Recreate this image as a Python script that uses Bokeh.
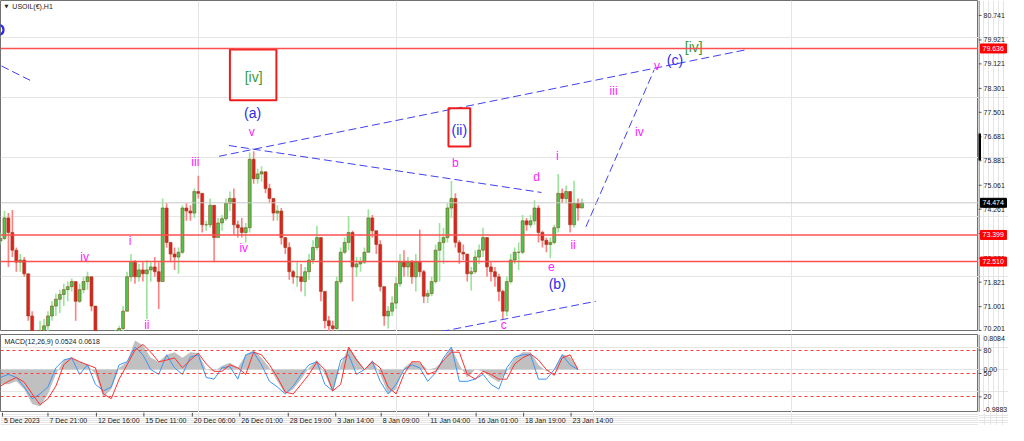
from bokeh.plotting import figure
from bokeh.models import Range1d, Span, ColumnDataSource
from bokeh.layouts import column, row
from bokeh.embed import file_html
from bokeh.resources import INLINE
from bokeh.core.properties import value

# ---------------- data ----------------
bar_step = 4          # hours per drawn bar
first_open = 73.20
price_high = [73.48, 74.20, 74.13, 74.23, 72.98, 72.76, 72.66, 72.10, 70.85, 70.20,
              70.53, 70.59, 70.85, 71.18, 71.44, 71.57, 71.77, 71.84, 71.94, 71.67,
              71.77, 72.00, 72.17, 72.00, 71.02, 70.04, 69.87, 69.87, 70.04, 70.20,
              70.36, 71.02, 72.17, 72.76, 72.56, 72.43, 72.49, 72.56, 72.49, 72.66,
              72.49, 74.62, 74.46, 73.15, 72.98, 72.98, 74.39, 74.46, 74.39, 74.95,
              75.38, 74.79, 73.87, 74.62, 74.30, 73.97, 74.07, 74.62, 74.85, 74.95,
              73.87, 73.97, 73.80, 76.16, 76.20, 75.61, 75.70, 75.51, 75.11, 74.62,
              74.39, 74.30, 73.31, 73.15, 72.23, 72.49, 72.43, 72.33, 72.76, 73.22,
              73.71, 73.31, 71.51, 70.69, 70.53, 72.00, 72.98, 73.31, 74.03, 73.54,
              72.66, 72.66, 72.98, 74.26, 74.07, 73.48, 73.22, 71.67, 71.02, 71.35,
              72.00, 72.76, 72.89, 72.66, 72.56, 72.76, 73.58, 72.23, 71.57, 72.00,
              73.08, 73.80, 73.64, 74.46, 75.21, 74.79, 73.22, 73.08, 72.76, 72.33,
              72.89, 73.08, 73.64, 73.31, 72.49, 72.33, 72.10, 71.57, 72.00, 72.76,
              72.98, 73.15, 74.07, 73.97, 74.07, 74.56, 74.39, 73.54, 73.31, 73.31,
              73.74, 75.44, 74.95, 75.05, 74.85, 75.21, 74.62, 74.62]
price_low = [73.08, 73.22, 72.33, 72.66, 72.17, 72.17, 72.00, 70.53, 69.87, 69.54,
             69.71, 69.87, 70.13, 70.53, 70.69, 70.79, 71.02, 71.18, 71.51, 70.53,
             71.12, 71.44, 71.57, 70.85, 69.87, 69.22, 69.05, 69.15, 69.38, 69.54,
             69.87, 70.13, 70.85, 71.84, 71.77, 71.84, 71.84, 70.59, 71.84, 72.00,
             70.92, 71.84, 72.98, 72.49, 72.23, 72.10, 72.76, 73.87, 73.87, 73.97,
             74.62, 73.48, 73.54, 73.64, 72.49, 73.31, 73.54, 73.87, 74.20, 73.41,
             73.31, 73.31, 73.15, 73.48, 75.11, 75.11, 75.18, 74.79, 74.46, 73.87,
             73.87, 73.08, 72.76, 71.90, 71.77, 71.67, 71.51, 71.35, 71.90, 72.43,
             72.89, 71.18, 70.27, 70.04, 70.04, 70.20, 71.77, 72.76, 72.89, 71.18,
             72.00, 72.17, 72.43, 72.82, 73.31, 72.76, 71.51, 70.36, 70.27, 70.69,
             70.92, 71.67, 72.00, 72.00, 71.77, 71.51, 72.00, 71.12, 71.12, 71.35,
             71.77, 71.84, 72.43, 73.15, 73.97, 72.98, 72.43, 72.56, 71.84, 71.54,
             72.10, 72.43, 72.66, 72.00, 71.84, 71.67, 71.18, 70.59, 70.69, 71.77,
             72.43, 72.23, 72.76, 73.54, 73.64, 73.74, 73.15, 72.98, 72.82, 72.62,
             73.08, 73.48, 74.46, 74.46, 73.48, 73.64, 73.87, 74.30]
price_close = [73.28, 73.97, 73.48, 72.89, 72.49, 72.56, 72.10, 70.69, 70.04, 69.71,
               70.20, 70.36, 70.69, 71.02, 71.25, 71.41, 71.57, 71.67, 71.84, 71.18,
               71.57, 71.84, 72.00, 71.02, 70.04, 69.54, 69.38, 69.61, 69.87, 70.04,
               70.27, 70.85, 72.00, 72.49, 72.00, 72.23, 72.10, 72.23, 72.33, 72.17,
               71.84, 74.30, 73.15, 72.76, 72.66, 72.82, 74.30, 74.20, 74.13, 74.85,
               74.79, 73.74, 73.74, 74.39, 73.31, 73.80, 73.94, 74.46, 74.62, 73.74,
               73.64, 73.48, 73.64, 75.93, 75.28, 75.44, 75.51, 74.95, 74.62, 74.13,
               74.20, 73.31, 72.98, 72.17, 72.00, 72.00, 71.84, 72.17, 72.56, 72.98,
               73.31, 71.51, 70.53, 70.36, 70.27, 71.84, 72.82, 73.15, 73.48, 72.33,
               72.43, 72.49, 72.82, 73.97, 73.54, 73.08, 71.67, 70.69, 70.85, 71.12,
               71.77, 72.49, 72.33, 72.49, 72.00, 72.49, 72.17, 71.35, 71.44, 71.84,
               72.89, 73.15, 73.31, 74.30, 74.62, 73.15, 72.82, 72.76, 72.10, 72.17,
               72.66, 72.89, 73.31, 72.33, 72.17, 72.00, 71.51, 70.85, 71.84, 72.56,
               72.82, 72.82, 73.87, 73.74, 73.87, 74.30, 73.48, 73.22, 73.08, 73.15,
               73.64, 74.79, 74.62, 74.85, 73.74, 74.46, 74.30, 74.474]

time_tick_idx = [2, 48, 97, 145, 194, 242, 291, 339, 385, 433, 481, 529, 577]
time_tick_labels = ["5 Dec 2023", "7 Dec 21:00", "12 Dec 16:00", "15 Dec 11:00", "20 Dec 06:00",
                    "26 Dec 01:00", "28 Dec 19:00", "3 Jan 14:00", "8 Jan 09:00", "11 Jan 04:00",
                    "16 Jan 01:00", "18 Jan 19:00", "23 Jan 14:00"]
price_ticks = [70.201, 71.001, 71.821, 72.621, 73.441, 74.261, 75.061, 75.881, 76.681,
               77.501, 78.301, 79.121, 79.921, 80.741]
red_levels = [79.636, 73.399, 72.510]
bid_price = 74.474
scroll_marker = (75.90, 76.79)   # MT4 price-scale marker

macd_step = 8
macd_hist = [-0.34, -0.34, -0.27, -0.45, -0.79, -0.85, -0.56, -0.11, 0.22, 0.27,
             0.18, 0.11, -0.11, -0.63, -0.45, 0.04, 0.18, 0.67, 0.56, 0.27,
             0.18, 0.34, 0.40, 0.27, 0.40, 0.38, 0.00, -0.04, 0.09, 0.16,
             0.04, 0.34, 0.45, 0.27, 0.04, -0.27, -0.56, -0.45, -0.22, 0.04,
             0.22, -0.11, -0.52, 0.11, 0.52, 0.27, 0.00, 0.22, -0.11, -0.56,
             -0.45, 0.04, 0.18, 0.16, 0.00, 0.04, 0.22, 0.52, 0.11, -0.18,
             0.00, -0.04, -0.18, -0.29, -0.04, 0.27, 0.40, 0.40, 0.11, -0.04,
             0.00, 0.36, 0.29, 0.04]
macd_signal = [-0.38, -0.27, -0.18, -0.29, -0.56, -0.81, -0.67, -0.38, 0.11, 0.27,
               0.18, 0.11, 0.04, -0.56, -0.67, -0.22, 0.11, 0.45, 0.58, 0.40,
               0.18, 0.22, 0.27, 0.04, 0.22, 0.38, 0.13, -0.04, -0.04, 0.11,
               0.04, -0.11, 0.40, 0.34, 0.11, -0.18, -0.52, -0.56, -0.34, -0.11,
               0.18, 0.00, -0.49, -0.34, 0.52, 0.22, 0.00, 0.18, 0.04, -0.40,
               -0.56, -0.11, 0.18, 0.18, -0.11, -0.04, 0.22, 0.40, 0.40, -0.11,
               -0.22, -0.04, -0.11, -0.22, -0.22, 0.13, 0.27, 0.36, 0.22, 0.00,
               -0.13, 0.27, 0.34, 0.00]
macd_blue = [-0.18, -0.11, -0.18, -0.40, -0.67, -0.56, -0.40, 0.04, 0.22, 0.27,
             -0.11, 0.11, -0.34, -0.49, -0.40, 0.11, 0.18, 0.52, 0.34, 0.00,
             -0.11, 0.34, 0.04, -0.11, 0.29, 0.34, -0.18, -0.22, 0.04, 0.07,
             -0.22, 0.34, 0.40, 0.11, -0.27, -0.40, -0.56, -0.38, -0.11, 0.11,
             0.18, -0.34, -0.49, 0.22, 0.34, -0.11, 0.00, 0.18, -0.27, -0.56,
             -0.34, 0.00, 0.11, 0.04, -0.27, -0.07, 0.27, 0.52, -0.27, -0.27,
             -0.22, -0.11, -0.34, -0.45, 0.04, 0.29, 0.34, 0.34, -0.22, -0.22,
             0.00, 0.34, 0.11, 0.00]
macd_levels = [80, 50, 20]
macd_max, macd_min = 0.8084, -0.9883
macd_title = "MACD(12,26,9) 0.0524 0.0618"

# wave annotations: text, bar index (hours), price, kind
wave_text = ["iv", "i", "ii", "iii", "iv", "v", "(a)", "[iv]", "(ii)", "b", "c", "d", "e",
             "(b)", "i", "ii", "iii", "iv", "v", "(c)", "[iv]"]
wave_idx = [85, 131, 148, 197, 246, 254, 255, 256, 464, 460, 509, 542, 557,
            563, 563, 579, 620, 646, 664, 682, 701]
wave_price = [72.66, 73.21, 70.40, 75.84, 72.95, 76.85, 77.47, 78.69, 76.92, 75.80, 70.40, 75.34, 72.33,
              71.77, 76.03, 73.05, 78.23, 76.85, 79.05, 79.24, 79.67]
wave_kind = ["m", "m", "m", "m", "m", "m", "b", "g", "b", "m", "m", "m", "m",
             "b", "m", "m", "m", "m", "m", "b", "g"]
# dashed trend lines: (idx0, price0, idx1, price1)
trend_lines = [(1, 79.05, 33, 78.52), (221, 76.03, 755, 79.60), (231, 76.39, 547, 74.82),
               (446, 70.17, 602, 71.18), (592, 73.67, 661, 78.92)]
# red boxes: idx_left, idx_right, price_top, price_bottom
boxes = [(232, 279, 79.60, 77.90), (453, 475, 77.64, 76.36)]
# blue wave marker cut by the left edge of the chart: idx, price
edge_marker = (-2, 80.26)

# ---------------- styles ----------------
MAG, BLU, GRN = "#ff22ff", "#2b2bea", "#3a9a3a"
kind_color = {"m": MAG, "b": BLU, "g": GRN}
kind_size = {"m": "12px", "b": "14px", "g": "14px"}
FONT = "Liberation Sans"
TXT = "#202020"
AXC = "#505050"
FRAME_W = 978
STRIP_W = 30
X_END = 989
MAIN_H = 331
MACD_TOP = 3
MACD_H = 78
TIME_H = 13


def bare(width, height, x_range, y_range, **kw):
    f = figure(width=width, height=height, x_range=x_range, y_range=y_range,
               output_backend="svg", toolbar_location=None, min_border_left=0,
               min_border_right=0, min_border_top=kw.get("top", 0), min_border_bottom=0,
               x_axis_location=None, y_axis_location=None)
    f.background_fill_color = "white"
    f.border_fill_color = "white"
    f.outline_line_color = kw.get("outline", None)
    return f


# ---------------- main price panel ----------------
price_range = Range1d(70.17, 81.24)
x_range = Range1d(0, X_END)
p = bare(FRAME_W, MAIN_H, x_range, price_range, outline="#707070")

p.add_layout(Span(location=bid_price, dimension="width", line_color="#c8c8c8", line_width=1))
for lv in red_levels:
    p.add_layout(Span(location=lv, dimension="width", line_color="#ff5050", line_width=1.5))

opens = [first_open] + price_close[:-1]
xs, tops, bots, his, los, body, wick = [], [], [], [], [], [], []
for i, (o, h, l, c) in enumerate(zip(opens, price_high, price_low, price_close)):
    xs.append(i * bar_step)
    tops.append(max(o, c))
    bots.append(min(o, c))
    his.append(max(h, o, c))
    los.append(min(l, o, c))
    up = c >= o
    body.append("#4cc84c" if up else "#e51e1e")
    wick.append("#9ae49a" if up else "#ff8080")
src = ColumnDataSource(dict(x=xs, top=tops, bottom=bots, high=his, low=los, body=body, wick=wick))
p.segment(x0="x", y0="high", x1="x", y1="low", line_color="wick", line_width=1.6, source=src)
p.vbar(x="x", width=3.0, top="top", bottom="bottom", fill_color="body", line_color="#8a4a20",
       line_width=0.6, source=src)

for x0, y0, x1, y1 in trend_lines:
    p.line([x0, x1], [y0, y1], line_color="#4040f0", line_width=1, line_dash="8 4")

p.quad(left=[b[0] for b in boxes], right=[b[1] for b in boxes], top=[b[2] for b in boxes],
       bottom=[b[3] for b in boxes], fill_alpha=0, line_color="#f01c1c", line_width=2)

wsrc = ColumnDataSource(dict(x=wave_idx, y=wave_price, text=wave_text,
                             color=[kind_color[k] for k in wave_kind],
                             size=[kind_size[k] for k in wave_kind]))
p.text(x="x", y="y", text="text", text_color="color", text_font_size="size",
       text_font=value(FONT), text_align="center", text_baseline="middle", source=wsrc)
p.arc(x=[edge_marker[0]], y=[edge_marker[1]], radius=5, radius_units="screen",
      start_angle=-1.4, end_angle=1.4, line_color=BLU, line_width=2.2)

p.text(x=[4], y=[81.04], text=["\u25BC"], text_color=TXT, text_font_size="5px",
       text_font=value("DejaVu Sans"), text_align="left", text_baseline="middle")
p.text(x=[12], y=[81.04], text=["USOIL(\u20ac),H1"], text_color=TXT, text_font_size="7px",
       text_font=value(FONT), text_align="left", text_baseline="middle")

# price scale strip
ps = bare(STRIP_W, MAIN_H, Range1d(0, STRIP_W), price_range)
ps.segment(x0=[0.5], y0=[price_range.start], x1=[0.5], y1=[price_range.end], line_color=AXC, line_width=1)
ps.segment(x0=[0] * len(price_ticks), y0=price_ticks, x1=[3] * len(price_ticks), y1=price_ticks,
           line_color=AXC, line_width=1)
tick_base = ["bottom" if t - price_range.start < 0.1 else "middle" for t in price_ticks]
ps.text(x=[5] * len(price_ticks), y=price_ticks, text=[f"{t:.3f}" for t in price_ticks],
        text_color=TXT, text_font_size="7px", text_font=value(FONT), text_align="left",
        text_baseline=tick_base)
ps.segment(x0=[1], y0=[scroll_marker[0]], x1=[1], y1=[scroll_marker[1]], line_color="black", line_width=3)
tag_levels = red_levels + [bid_price]
tag_colors = ["#ff0000"] * len(red_levels) + ["#000000"]
ps.rect(x=[15] * len(tag_levels), y=tag_levels, width=[26] * len(tag_levels), height=9,
        height_units="screen", fill_color=tag_colors, line_color=tag_colors)
ps.text(x=[4] * len(tag_levels), y=tag_levels, text=[f"{t:.3f}" for t in tag_levels],
        text_color="white", text_font_size="7px", text_font=value(FONT), text_align="left",
        text_baseline="middle")

# ---------------- MACD panel ----------------
macd_range = Range1d(macd_min, macd_max)
m = bare(FRAME_W, MACD_TOP + MACD_H, x_range, macd_range, top=MACD_TOP, outline="#707070")
m.extra_y_ranges = {"lvl": Range1d(0, 100)}
mx = [i * macd_step for i in range(len(macd_hist))]
m.varea(x=mx, y1=[0] * len(mx), y2=macd_hist, fill_color="#c0c0c0")
m.line(mx, macd_blue, line_color="#3d95f5", line_width=1)
m.line(mx, macd_signal, line_color="#ff3030", line_width=1)
m.hspan(y=macd_levels, y_range_name="lvl", line_color="#ff3b3b", line_dash="3 3", line_width=1)
px_unit = (macd_max - macd_min) / MACD_H
m.text(x=[4], y=[macd_max - 7 * px_unit], text=[macd_title], text_color=TXT, text_font_size="7px",
       text_font=value(FONT), text_align="left", text_baseline="middle")


def lvl_to_macd(v):
    return macd_min + v / 100.0 * (macd_max - macd_min)


ms = bare(STRIP_W, MACD_TOP + MACD_H, Range1d(0, STRIP_W), macd_range, top=MACD_TOP)
ms.segment(x0=[0.5], y0=[macd_min], x1=[0.5], y1=[macd_max], line_color=AXC, line_width=1)
lvl_pos = [lvl_to_macd(v) for v in macd_levels]
ms.segment(x0=[0] * 3, y0=lvl_pos, x1=[3] * 3, y1=lvl_pos, line_color=AXC, line_width=1)
axis_y = [macd_max - px_unit, lvl_to_macd(80), 0.0, lvl_to_macd(50), lvl_to_macd(20), macd_min + px_unit]
axis_t = [f"{macd_max:.4f}", "80", "0.00", "50", "20", f"{macd_min:.4f}"]
axis_b = ["top", "middle", "middle", "middle", "middle", "bottom"]
ms.text(x=[5] * len(axis_y), y=axis_y, text=axis_t, text_color=TXT, text_font_size="7px",
        text_font=value(FONT), text_align="left", text_baseline=axis_b)

# ---------------- time axis strip ----------------
t = bare(FRAME_W, TIME_H, x_range, Range1d(TIME_H, 0))
t.segment(x0=time_tick_idx, y0=[0] * len(time_tick_idx), x1=time_tick_idx, y1=[4] * len(time_tick_idx),
          line_color=AXC, line_width=1)
t.text(x=[v + 1.5 for v in time_tick_idx], y=[8] * len(time_tick_idx), text=time_tick_labels,
       text_color=TXT, text_font_size="7px", text_font=value(FONT), text_align="left",
       text_baseline="middle")
tp = bare(STRIP_W, TIME_H, Range1d(0, 1), Range1d(0, 1))

layout = column(row(p, ps), row(m, ms), row(t, tp))
open("out.html", "w").write(file_html(layout, INLINE))
